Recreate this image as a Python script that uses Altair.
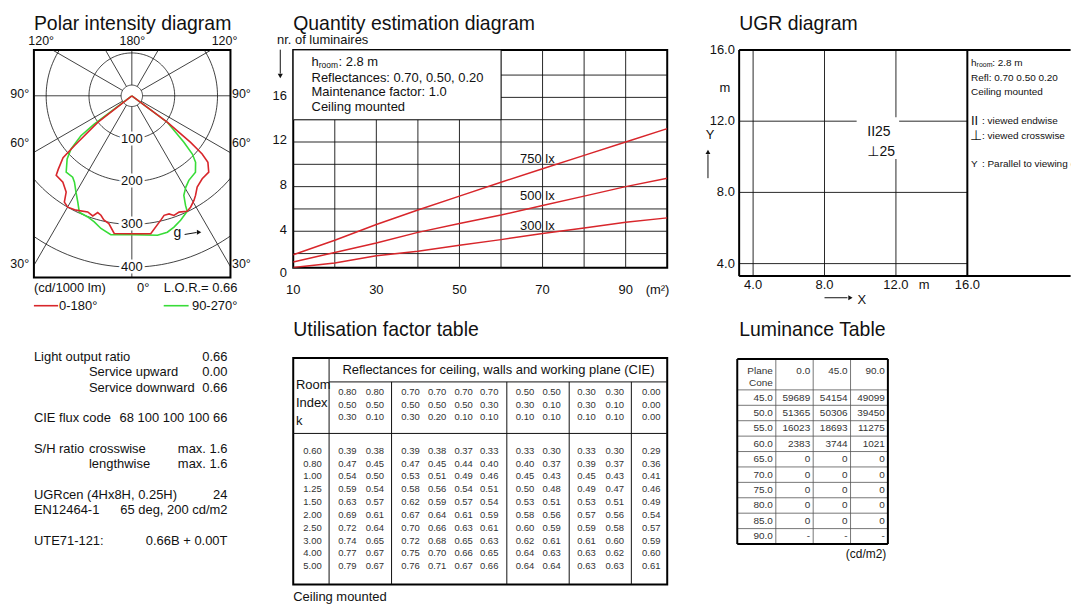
import altair as alt
import numpy as np
import pandas as pd

FONT = "Liberation Sans, Arial, DejaVu Sans, sans-serif"
INK = "#111111"
RED = "#d8262b"
GREEN = "#38dc38"
TAB = "#333333"

# ======================= DATA =======================
# Polar intensity diagram (cd/1000 lm); negative angle = left half-plane, 0 = nadir
red_angle = [-56, -52, -49, -48, -45, -43.6, -38.6, -34.3, -32.4, -29.9, -26, -20.8, -18, -16.3,
             -14.5, -12.7, -10.2, -7.3, 0, 7.8, 13.1, 15.1, 17.5, 19.4, 22.1, 25.6, 27.8, 30.7,
             32.6, 35.6, 40.3, 45.2, 48.8, 50.4, 51.6, 53.2, 56]
red_cd = [0, 101, 177, 216, 243, 256, 258, 272, 294, 300, 297, 290, 295, 284,
          288, 297, 303, 324, 322, 325, 298, 289, 289, 296, 293, 299, 294, 284,
          276, 262, 254, 253, 236, 213, 175, 104, 0]
green_angle = [-56, -53, -51.9, -48.8, -45.7, -40.7, -36, -33.6, -30.1, -27, -24.3, -20, -16.6,
               -13.1, -8.6, 0, 10.4, 14.6, 17.8, 21.4, 25.6, 26.1, 27.6, 30.5, 34, 39.8, 43.8,
               46.1, 48.2, 53.2, 56]
green_cd = [0, 110, 151, 189, 211, 235, 235, 242, 260, 278, 298, 301, 307,
            318, 328, 324, 331, 329, 322, 312, 299, 285, 262, 248, 238, 232, 215,
            196, 163, 104, 0]
polar_circles = [25, 100, 200, 300, 400]
polar_circle_labels = [100, 200, 300, 400]
polar_spokes = [0, 30, 60, 90, 120, 150, 180, 210, 240, 270, 300, 330]

# Quantity estimation diagram
area_m2 = [10, 20, 30, 40, 50, 60, 70, 80, 90, 100]
lum_750 = [1.9, 3.2, 4.6, 5.9, 7.15, 8.4, 9.6, 10.8, 12.0, 13.2]
lum_500 = [1.25, 2.1, 2.95, 3.9, 4.7, 5.45, 6.3, 7.15, 8.0, 8.75]
lum_300 = [0.75, 1.15, 1.8, 2.2, 2.75, 3.25, 3.8, 4.3, 4.8, 5.2]
quant_x_grid = [20, 30, 40, 50, 60, 70, 80, 90]
quant_y_grid = [2, 4, 6, 8, 10, 12, 14, 16, 18]
quant_x_labels = [10, 30, 50, 70, 90]
quant_y_labels = [4, 8, 12, 16]

# UGR diagram
ugr_grid = [4, 8, 12]
ugr_ticks = [4, 8, 12, 16]

# Left information block
info_line = [0, 1, 2, 4, 6, 7, 9, 10, 12]
info_label = ["Light output ratio", "", "", "CIE flux code", "S/H ratio", "",
              "UGRcen (4Hx8H, 0.25H)", "EN12464-1", "UTE71-121:"]
info_sub = ["", "Service upward", "Service downward", "", "crosswise", "lengthwise", "", "", ""]
info_value = ["0.66", "0.00", "0.66", "68 100 100 100 66", "max. 1.6", "max. 1.6", "24",
              "65 deg, 200 cd/m2", "0.66B + 0.00T"]

# Utilisation factor table
room_index = ["0.60", "0.80", "1.00", "1.25", "1.50", "2.00", "2.50", "3.00", "4.00", "5.00"]
refl_ceiling = ["0.80", "0.80", "0.70", "0.70", "0.70", "0.70", "0.50", "0.50", "0.30", "0.30", "0.00"]
refl_walls = ["0.50", "0.50", "0.50", "0.50", "0.50", "0.30", "0.30", "0.10", "0.30", "0.10", "0.00"]
refl_plane = ["0.30", "0.10", "0.30", "0.20", "0.10", "0.10", "0.10", "0.10", "0.10", "0.10", "0.00"]
uf_values = [
    [0.39, 0.38, 0.39, 0.38, 0.37, 0.33, 0.33, 0.30, 0.33, 0.30, 0.29],
    [0.47, 0.45, 0.47, 0.45, 0.44, 0.40, 0.40, 0.37, 0.39, 0.37, 0.36],
    [0.54, 0.50, 0.53, 0.51, 0.49, 0.46, 0.45, 0.43, 0.45, 0.43, 0.41],
    [0.59, 0.54, 0.58, 0.56, 0.54, 0.51, 0.50, 0.48, 0.49, 0.47, 0.46],
    [0.63, 0.57, 0.62, 0.59, 0.57, 0.54, 0.53, 0.51, 0.53, 0.51, 0.49],
    [0.69, 0.61, 0.67, 0.64, 0.61, 0.59, 0.58, 0.56, 0.57, 0.56, 0.54],
    [0.72, 0.64, 0.70, 0.66, 0.63, 0.61, 0.60, 0.59, 0.59, 0.58, 0.57],
    [0.74, 0.65, 0.72, 0.68, 0.65, 0.63, 0.62, 0.61, 0.61, 0.60, 0.59],
    [0.77, 0.67, 0.75, 0.70, 0.66, 0.65, 0.64, 0.63, 0.63, 0.62, 0.60],
    [0.79, 0.67, 0.76, 0.71, 0.67, 0.66, 0.64, 0.64, 0.63, 0.63, 0.61],
]

# Luminance table (cd/m2)
lum_planes = ["0.0", "45.0", "90.0"]
lum_cones = ["45.0", "50.0", "55.0", "60.0", "65.0", "70.0", "75.0", "80.0", "85.0", "90.0"]
lum_values = [
    ["59689", "54154", "49099"],
    ["51365", "50306", "39450"],
    ["16023", "18693", "11275"],
    ["2383", "3744", "1021"],
    ["0", "0", "0"],
    ["0", "0", "0"],
    ["0", "0", "0"],
    ["0", "0", "0"],
    ["0", "0", "0"],
    ["-", "-", "-"],
]

# ======================= HELPERS =======================
ONE = pd.DataFrame({"d": [0]})
TITLE_Y = 21.0


def lab(o, text, px, py, size=13, align="left", color=INK, baseline="middle", **kw):
    return alt.Chart(pd.DataFrame({"t": [text]})).mark_text(
        font=FONT, fontSize=size, align=align, baseline=baseline, color=color, **kw
    ).encode(x=alt.value(px - o[0]), y=alt.value(py - o[1]), text="t:N")


def seg(o, x0, y0, x1, y1, w=1.0, color=INK):
    return alt.Chart(ONE).mark_rule(strokeWidth=w, color=color).encode(
        x=alt.value(x0 - o[0]), y=alt.value(y0 - o[1]),
        x2=alt.value(x1 - o[0]), y2=alt.value(y1 - o[1]))


def head(o, px, py, shape, size=28):
    return alt.Chart(ONE).mark_point(shape=shape, filled=True, size=size, color=INK, opacity=1).encode(
        x=alt.value(px - o[0]), y=alt.value(py - o[1]))


# ======================= POLAR =======================
O1 = (32.7, 47.3)
W1, H1 = 197.3, 228.5
CX, CY, K = 131.0, 93.3, 0.43
psx = alt.Scale(domain=[(O1[0] - CX) / K, (O1[0] + W1 - CX) / K], nice=False, zero=False)
psy = alt.Scale(domain=[-(O1[1] + H1 - CY) / K, (CY - O1[1]) / K], nice=False, zero=False)
PX = alt.X("x:Q", scale=psx, axis=None)
PY = alt.Y("y:Q", scale=psy, axis=None)

th = np.radians(np.arange(0, 362, 2))
circ = pd.concat([pd.DataFrame({"r": r, "seq": np.arange(th.size),
                                "x": r * np.sin(th), "y": r * np.cos(th)}) for r in polar_circles])
sa = np.radians(polar_spokes)
spokes = pd.DataFrame({"x": 25 * np.sin(sa), "y": -25 * np.cos(sa),
                       "x2": 900 * np.sin(sa), "y2": -900 * np.cos(sa)})
clabels = pd.DataFrame({"x": 0.0, "y": [-float(v) for v in polar_circle_labels],
                        "t": [str(v) for v in polar_circle_labels]})


def curve_df(ang, cd):
    a = np.radians(ang)
    c = np.array(cd, float)
    return pd.DataFrame({"seq": np.arange(len(ang)), "x": c * np.sin(a), "y": -c * np.cos(a)})


polar_layers = [
    # invisible anchor pinning the page's top-left corner
    alt.Chart(ONE).mark_point(size=1, filled=True, opacity=0).encode(
        x=alt.value(8.6 - O1[0]), y=alt.value(8.6 - O1[1])),
    alt.Chart(circ).mark_line(color=INK, strokeWidth=0.8, clip=True).encode(
        x=PX, y=PY, detail="r:N", order="seq:Q"),
    alt.Chart(spokes).mark_rule(color=INK, strokeWidth=0.8, clip=True).encode(
        x=PX, y=PY, x2="x2:Q", y2="y2:Q"),
    alt.Chart(clabels).mark_text(font=FONT, fontSize=13, stroke="white", strokeWidth=5, color="white").encode(
        x=PX, y=PY, text="t:N"),
    alt.Chart(clabels).mark_text(font=FONT, fontSize=13, color=INK).encode(x=PX, y=PY, text="t:N"),
    alt.Chart(curve_df(green_angle, green_cd)).mark_line(color=GREEN, strokeWidth=1.6).encode(
        x=PX, y=PY, order="seq:Q"),
    alt.Chart(curve_df(red_angle, red_cd)).mark_line(color=RED, strokeWidth=1.6).encode(
        x=PX, y=PY, order="seq:Q"),
    lab(O1, "Polar intensity diagram", 32.7, TITLE_Y, size=19.5),
    lab(O1, "120°", 40, 38.5, size=12.5, align="center"),
    lab(O1, "180°", 131.5, 38.5, size=12.5, align="center"),
    lab(O1, "120°", 224, 38.5, size=12.5, align="center"),
    lab(O1, "90°", 18.5, 92, size=12.5, align="center"),
    lab(O1, "60°", 18.5, 141, size=12.5, align="center"),
    lab(O1, "30°", 18.5, 262, size=12.5, align="center"),
    lab(O1, "90°", 241, 92, size=12.5, align="center"),
    lab(O1, "60°", 241, 141, size=12.5, align="center"),
    lab(O1, "30°", 241, 262, size=12.5, align="center"),
    lab(O1, "(cd/1000 lm)", 32.7, 286),
    lab(O1, "0°", 142.5, 286, align="center"),
    lab(O1, "L.O.R.= 0.66", 237, 286, align="right"),
    seg(O1, 32.7, 304, 57, 304, w=1.6, color=RED),
    lab(O1, "0-180°", 58, 304),
    seg(O1, 163, 304, 188, 304, w=1.6, color=GREEN),
    lab(O1, "90-270°", 237, 304, align="right"),
    lab(O1, "g", 176.7, 231, size=14, align="center"),
    seg(O1, 184, 232.5, 196, 230.5, w=1),
    head(O1, 198.5, 230.2, "triangle-right", size=26),
]
polar = alt.layer(*polar_layers).properties(
    width=W1, height=H1, view=alt.ViewBackground(stroke="black", strokeWidth=2))

# ======================= QUANTITY =======================
O2 = (292.3, 47.3)
W2, H2 = 375.4, 218.7
qsx = alt.Scale(domain=[10, 100], nice=False, zero=False)
qsy = alt.Scale(domain=[0.72, 20.25], nice=False, zero=False)
QX = lambda f: alt.X(f, type="quantitative", scale=qsx, axis=None)
QY = lambda f: alt.Y(f, type="quantitative", scale=qsy, axis=None)
qlines = pd.concat([
    pd.DataFrame({"area": area_m2, "n": vals, "lux": name})
    for name, vals in [("750", lum_750), ("500", lum_500), ("300", lum_300)]
])
qbox = pd.DataFrame({"x0": [10], "x1": [60], "y0": [14], "y1": [20.25]})

quant_layers = [
    alt.Chart(pd.DataFrame({"gx": quant_x_grid})).mark_rule(color=INK, strokeWidth=0.9).encode(
        x=QX("gx"), y=alt.value(0), y2=alt.value(H2)),
    alt.Chart(pd.DataFrame({"gy": quant_y_grid})).mark_rule(color=INK, strokeWidth=0.9).encode(
        y=QY("gy"), x=alt.value(0), x2=alt.value(W2)),
    alt.Chart(qbox).mark_rect(fill="white", stroke=INK, strokeWidth=0.9).encode(
        x=QX("x0"), x2="x1:Q", y=QY("y0"), y2="y1:Q"),
    alt.Chart(qlines).mark_line(color=RED, strokeWidth=1.5, clip=True).encode(
        x=QX("area"), y=QY("n"), detail="lux:N", order="area:Q"),
    alt.Chart(pd.DataFrame({"v": quant_x_labels, "t": [str(v) for v in quant_x_labels]})).mark_text(
        font=FONT, fontSize=13, align="center", color=INK).encode(
        x=QX("v"), y=alt.value(288.3 - O2[1]), text="t:N"),
    alt.Chart(pd.DataFrame({"v": quant_y_labels, "t": [str(v) for v in quant_y_labels]})).mark_text(
        font=FONT, fontSize=13, align="right", color=INK, dy=-1.5).encode(
        y=QY("v"), x=alt.value(286 - O2[0]), text="t:N"),
    lab(O2, "Quantity estimation diagram", 292.3, TITLE_Y, size=19.5),
    lab(O2, "nr. of luminaires", 276, 37.5),
    seg(O2, 279.3, 47, 279.3, 71, w=1),
    head(O2, 279.3, 73.5, "triangle-down", size=26),
    lab(O2, "0", 286, 270.7, align="right"),
    lab(O2, "(m²)", 658, 288.3, align="center"),
    lab(O2, "h", 310.7, 59.3),
    lab(O2, "room", 317.9, 62.5, size=8.5),
    lab(O2, ": 2.8 m", 337.8, 59.3),
    lab(O2, "Reflectances: 0.70, 0.50, 0.20", 310.7, 75),
    lab(O2, "Maintenance factor: 1.0", 310.7, 90),
    lab(O2, "Ceiling mounted", 310.7, 105),
    lab(O2, "750 lx", 520, 156.7),
    lab(O2, "500 lx", 520, 194),
    lab(O2, "300 lx", 520, 224),
]
quant = alt.layer(*quant_layers).properties(
    width=W2, height=H2, view=alt.ViewBackground(stroke="black", strokeWidth=2))

# ======================= UGR =======================
O3 = (730.0, 47.3)
W3, H3 = 342.0, 227.0
UK_X, UK_Y = 17.92, 17.87
u_left = 4 - 14.0 / UK_X
usx = alt.Scale(domain=[4 - 23.3 / UK_X, 4 + (W3 - 23.3) / UK_X], nice=False, zero=False)
usy = alt.Scale(domain=[16 - H3 / UK_Y, 16], nice=False, zero=False)
u_bottom = 16 - H3 / UK_Y
u_far = 4 + (W3 - 23.3) / UK_X
UX = lambda f: alt.X(f, type="quantitative", scale=usx, axis=None)
UY = lambda f: alt.Y(f, type="quantitative", scale=usy, axis=None)

ugr_layers = [
    alt.Chart(pd.DataFrame({"gx": ugr_grid})).mark_rule(color=INK, strokeWidth=0.9).encode(
        x=UX("gx"), y=alt.value(0), y2=alt.value(H3)),
    alt.Chart(pd.DataFrame({"gy": ugr_grid, "x0": u_left, "x1": 16.0})).mark_rule(
        color=INK, strokeWidth=0.9).encode(y=UY("gy"), x=UX("x0"), x2="x1:Q"),
    alt.Chart(pd.DataFrame({"x0": [9.8], "x1": [12.18], "y0": [9.87], "y1": [12.22]})).mark_rect(
        fill="white").encode(x=UX("x0"), x2="x1:Q", y=UY("y0"), y2="y1:Q"),
    alt.Chart(pd.DataFrame({"bx": [u_left, 16.0]})).mark_rule(color="black", strokeWidth=2).encode(
        x=UX("bx"), y=alt.value(0), y2=alt.value(H3)),
    alt.Chart(pd.DataFrame({"by": [16.0, u_bottom], "x0": u_left, "x1": u_far})).mark_rule(
        color="black", strokeWidth=2).encode(y=UY("by"), x=UX("x0"), x2="x1:Q"),
    alt.Chart(pd.DataFrame({"v": ugr_ticks, "t": [f"{v:.1f}" for v in ugr_ticks]})).mark_text(
        font=FONT, fontSize=13, align="right", color=INK).encode(
        y=UY("v"), x=alt.value(735 - O3[0]), text="t:N"),
    alt.Chart(pd.DataFrame({"v": ugr_ticks, "t": [f"{v:.1f}" for v in ugr_ticks]})).mark_text(
        font=FONT, fontSize=13, align="center", color=INK).encode(
        x=UX("v"), y=alt.value(283.3 - O3[1]), text="t:N"),
    lab(O3, "UGR diagram", 739.3, TITLE_Y, size=19.5),
    lab(O3, "m", 725, 85, align="center"),
    lab(O3, "Y", 710, 133, align="center"),
    seg(O3, 708, 176, 708, 152, w=1),
    head(O3, 708, 149.5, "triangle-up", size=24),
    lab(O3, "m", 925, 283.3, align="center"),
    seg(O3, 825, 296, 848, 296, w=1),
    head(O3, 851, 296, "triangle-right", size=24),
    lab(O3, "X", 862.5, 298, align="center"),
    lab(O3, "II25", 868, 130, size=14),
    lab(O3, "⊥25", 868, 149.3, size=14),
    lab(O3, "h", 972, 60, size=10, clip=True),
    lab(O3, "room", 977.6, 62.2, size=7, clip=True),
    lab(O3, ": 2.8 m", 993.3, 60, size=10, clip=True),
    lab(O3, "Refl: 0.70 0.50 0.20", 972, 75, size=10, clip=True),
    lab(O3, "Ceiling mounted", 972, 90, size=10, clip=True),
    lab(O3, "II", 972, 119, size=13, clip=True),
    lab(O3, ": viewed endwise", 983, 119, size=10, clip=True),
    lab(O3, "⊥", 971, 133.3, size=14, clip=True),
    lab(O3, ": viewed crosswise", 983, 133.3, size=10, clip=True),
    lab(O3, "Y", 972, 161.7, size=10, clip=True),
    lab(O3, ": Parallel to viewing direction", 983, 161.7, size=10, clip=True),
]
ugr = alt.layer(*ugr_layers).properties(width=W3, height=H3)

# ======================= INFO BLOCK =======================
O4 = (32.7, 356.0)
W4, H4 = 197.3, 200
isy = alt.Scale(domain=[0, 12], range=[355 - O4[1], 355 - O4[1] + 15.4 * 12], nice=False, zero=False)
info_df = pd.DataFrame({"line": info_line, "label": info_label, "sub": info_sub, "value": info_value})
info = alt.layer(
    alt.Chart(info_df).mark_text(font=FONT, fontSize=13, align="left", color=INK).encode(
        y=alt.Y("line:Q", scale=isy, axis=None), x=alt.value(0), text="label:N"),
    alt.Chart(info_df).mark_text(font=FONT, fontSize=13, align="left", color=INK).encode(
        y=alt.Y("line:Q", scale=isy, axis=None), x=alt.value(88 - O4[0]), text="sub:N"),
    alt.Chart(info_df).mark_text(font=FONT, fontSize=13, align="right", color=INK).encode(
        y=alt.Y("line:Q", scale=isy, axis=None), x=alt.value(227 - O4[0]), text="value:N"),
).properties(width=W4, height=H4)

# ======================= UTILISATION TABLE =======================
O5 = (292.3, 356.0)
W5, H5 = 375.4, 227.3
UT_X = [19.4, 54.4, 82, 117.7, 144.4, 171, 196.7, 232.7, 259.4, 294.4, 322.7, 359.4]
ut_rows = []
for k, (ri, vals) in enumerate(zip(room_index, uf_values)):
    ut_rows.append({"c": 0, "r": k, "t": ri})
    for c, v in enumerate(vals, start=1):
        ut_rows.append({"c": c, "r": k, "t": f"{v:.2f}"})
for r, arr in zip([-3, -2, -1], [refl_ceiling, refl_walls, refl_plane]):
    for c, v in enumerate(arr, start=1):
        ut_rows.append({"c": c, "r": r, "t": v})
ut_df = pd.DataFrame(ut_rows)
ux = alt.Scale(domain=list(range(12)), range=UT_X, nice=False, zero=False)
uy = alt.Scale(domain=[-3, -1, 0, 9], range=[34, 59.7, 93, 93 + 12.9 * 9], nice=False, zero=False)
util_layers = [
    seg((0, 0), 36, 0, 36, H5),
    seg((0, 0), 36, 24, W5, 24),
    seg((0, 0), 0, 75.7, W5, 75.7),
] + [seg((0, 0), xv, 24, xv, H5) for xv in [98.7, 214.4, 277, 339.4]] + [
    alt.Chart(ut_df).mark_text(font=FONT, fontSize=9.5, align="center", color=TAB).encode(
        x=alt.X("c:Q", scale=ux, axis=None), y=alt.Y("r:Q", scale=uy, axis=None), text="t:N"),
    lab(O5, "Reflectances for ceiling, walls and working plane (CIE)", 498.3, 368.3, align="center"),
    lab(O5, "Room", 295, 383),
    lab(O5, "Index", 295, 401),
    lab(O5, "k", 295, 419),
    lab(O5, "Utilisation factor table", 292.3, 328, size=19.5),
    lab(O5, "Ceiling mounted", 292.3, 596),
]
util = alt.layer(*util_layers).properties(
    width=W5, height=H5, view=alt.ViewBackground(stroke="black", strokeWidth=2))

# ======================= LUMINANCE TABLE =======================
O6 = (730.0, 356.0)
W6, H6 = 160, 200
LX = [7.4, 46.1, 83.6, 121.1, 158.6]
LT, LH, LR = 1.0, 32.0, 15.47
LB = LH + LR * 10
lum_rows = []
for r, (cone, vals) in enumerate(zip(lum_cones, lum_values)):
    lum_rows.append({"c": 0, "r": r, "t": cone})
    for c, v in enumerate(vals, start=1):
        lum_rows.append({"c": c, "r": r, "t": v})
lum_df = pd.DataFrame(lum_rows)
lx = alt.Scale(domain=[0, 1, 2, 3], range=[xv - 3 for xv in LX[1:]], nice=False, zero=False)
ly = alt.Scale(domain=[0, 9], range=[LH + LR * 0.5, LH + LR * 9.5], nice=False, zero=False)
lum_layers = (
    [seg((0, 0), LX[0], LH + LR * k, LX[-1], LH + LR * k, w=0.8, color="#555555") for k in range(0, 10)]
    + [seg((0, 0), xv, LT, xv, LB, w=0.8, color="#555555") for xv in LX[1:-1]]
    + [seg((0, 0), LX[0], LT, LX[-1], LT, w=2, color="black"),
       seg((0, 0), LX[0], LB, LX[-1], LB, w=2, color="black"),
       seg((0, 0), LX[0], LT, LX[0], LB, w=2, color="black"),
       seg((0, 0), LX[-1], LT, LX[-1], LB, w=2, color="black")]
    + [alt.Chart(lum_df).mark_text(font=FONT, fontSize=10, align="right", color=TAB).encode(
        x=alt.X("c:Q", scale=lx, axis=None), y=alt.Y("r:Q", scale=ly, axis=None), text="t:N")]
    + [lab((0, 0), "Plane", LX[1] - 3, 13, size=10, align="right", color=TAB),
       lab((0, 0), "Cone", LX[1] - 3, 25, size=10, align="right", color=TAB)]
    + [lab((0, 0), p, LX[i + 2] - 3, 13, size=10, align="right", color=TAB) for i, p in enumerate(lum_planes)]
    + [lab(O6, "(cd/m2)", 887, 553, size=12, align="right"),
       lab(O6, "Luminance Table", 739.3, 328, size=19.5)]
)
lum = alt.layer(*lum_layers).properties(width=W6, height=H6)

# ======================= LAYOUT =======================
chart = alt.concat(
    polar, quant, ugr, info, util, lum,
    columns=3, spacing={"row": 80.2, "column": 62.3}, bounds="flush", align="each",
).properties(
    padding={"left": 0, "top": 0, "right": 0, "bottom": 0}, background="white"
).configure(font=FONT).configure_view(stroke=None)

chart.save("out.html", embed_options={"renderer": "svg", "actions": False})
